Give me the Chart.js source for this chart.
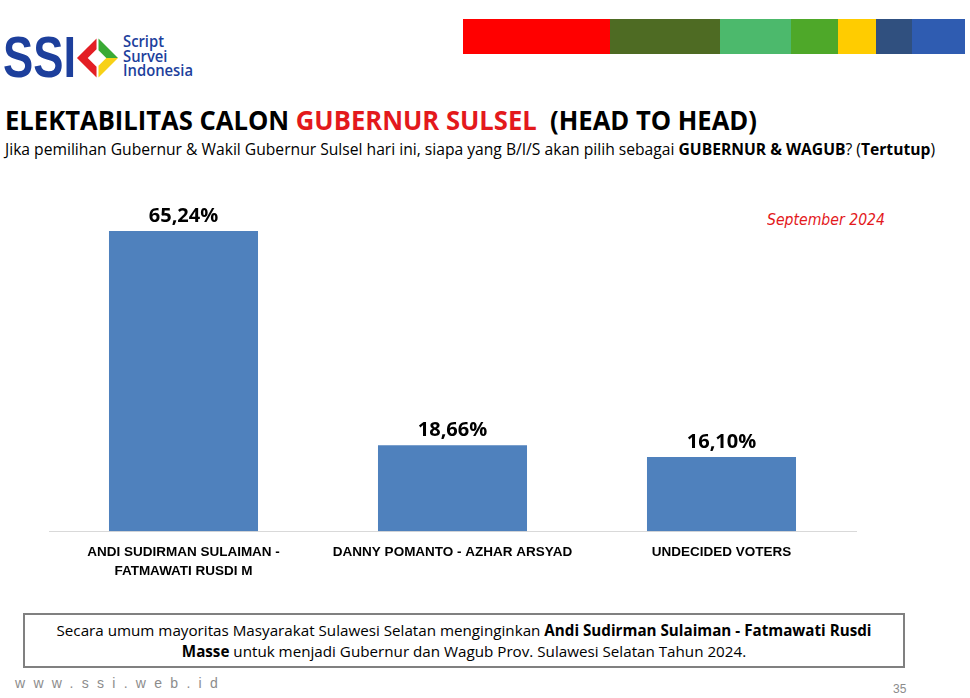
<!DOCTYPE html>
<html>
<head>
<meta charset="utf-8">
<script src="https://cdn.jsdelivr.net/npm/chart.js@4.4.1/dist/chart.umd.min.js"></script>
<style>
  body { margin: 0; width: 970px; height: 698px; background: #fff; position: relative; overflow: hidden;
         font-family: "Open Sans", sans-serif; }
  .abs { position: absolute; white-space: nowrap; transform-origin: left top; }
  #strip { left: 463px; top: 19px; height: 35px; width: 502px; display: flex; }
  #strip div { height: 100%; }
  #logo-ssi { left: 3px; top: 27px; font: bold 57px "Liberation Sans", sans-serif; color: #1d3f9c; line-height: 60px; }
  #logo-txt { left: 123px; top: 34px; font: 600 15.5px "Open Sans", sans-serif; color: #1d3f9c; line-height: 14.5px; }
  #title { left: 5px; top: 101px; font-weight: bold; font-size: 27px; color: #000; }
  #title span { color: #e3191c; }
  #sub { left: 5px; top: 138px; font-size: 16px; color: #000; }
  #date { left: 767px; top: 211px; font: italic 15px "DejaVu Sans", sans-serif; color: #e3191c; }
  #box { left: 23px; top: 613px; width: 882px; height: 55px; border: 2px solid #808080; box-sizing: border-box; }
  #boxtxt { left: 0; top: 620px; width: 928px; text-align: center; font-size: 15.2px; line-height: 21px; }
  #web { left: 15px; top: 675px; font: 14px "Liberation Sans", sans-serif; color: #8c8c8c; letter-spacing: 8.3px; }
  #page { left: 893px; top: 682px; font: 12px "Liberation Sans", sans-serif; color: #8c8c8c; }
  #wrap { left: 0; top: 190px; width: 970px; height: 395px; }
</style>
</head>
<body>
<div id="strip" class="abs">
  <div style="width:147px;background:#ff0000"></div>
  <div style="width:110px;background:#4e6b23"></div>
  <div style="width:71px;background:#4cb96c"></div>
  <div style="width:47px;background:#4ea829"></div>
  <div style="width:38px;background:#ffcc00"></div>
  <div style="width:36px;background:#30507f"></div>
  <div style="width:53px;background:#2f5cb1"></div>
</div>
<div id="logo-ssi" class="abs" data-w="73">SSI</div>
<svg class="abs" style="left:76px;top:36px" width="43" height="44" viewBox="0 0 44 44">
  <polygon points="1,22 21,2 21,13 12,22 21,31 21,42" fill="#e31e24"/>
  <polygon points="23,2 43,22 31,22 23,14" fill="#3aaa35"/>
  <polygon points="43,22 23,42 23,30 31,22" fill="#f7d117"/>
</svg>
<div id="logo-txt" class="abs">Script<br>Survei<br><span id="indo" >Indonesia</span></div>
<div id="title" class="abs" data-w="752">ELEKTABILITAS CALON <span>GUBERNUR SULSEL</span>&nbsp; (HEAD TO HEAD)</div>
<div id="sub" class="abs" data-w="930">Jika pemilihan Gubernur &amp; Wakil Gubernur Sulsel hari ini, siapa yang B/I/S akan pilih sebagai <b>GUBERNUR &amp; WAGUB</b>? (<b>Tertutup</b>)</div>
<div id="date" class="abs" data-w="118">September 2024</div>
<div id="wrap" class="abs"><canvas id="chart"></canvas></div>
<div id="box" class="abs"></div>
<div id="boxtxt" class="abs">Secara umum mayoritas Masyarakat Sulawesi Selatan menginginkan <b>Andi Sudirman Sulaiman - Fatmawati Rusdi<br>Masse</b> untuk menjadi Gubernur dan Wagub Prov. Sulawesi Selatan Tahun 2024.</div>
<div id="web" class="abs">www.ssi.web.id</div>
<div id="page" class="abs">35</div>
<script>
const categories = [
  ["ANDI SUDIRMAN SULAIMAN -", "FATMAWATI RUSDI M"],
  "DANNY POMANTO - AZHAR ARSYAD",
  "UNDECIDED VOTERS"
];
const percentages = [65.24, 18.66, 16.10];
const valueLabels = ["65,24%", "18,66%", "16,10%"];

// squeeze text blocks to the widths seen in the slide (its font is condensed)
document.querySelectorAll("[data-w]").forEach(function(el) {
  const w = el.getBoundingClientRect().width;
  el.style.transform = "scaleX(" + (Number(el.dataset.w) / w) + ")";
});
const lt = document.getElementById("logo-txt");
lt.style.transform = "scaleX(" + (70 / document.getElementById("indo").getBoundingClientRect().width) + ")";

const barLabels = {
  id: "barLabels",
  afterDatasetsDraw(chart) {
    const ctx = chart.ctx;
    const meta = chart.getDatasetMeta(0);
    ctx.save();
    ctx.font = "bold 20px 'Open Sans', sans-serif";
    ctx.fillStyle = "#000";
    ctx.textAlign = "center";
    ctx.textBaseline = "bottom";
    meta.data.forEach(function(bar, i) {
      ctx.fillText(valueLabels[i], bar.x, bar.y - 5);
    });
    ctx.restore();
  }
};

new Chart(document.getElementById("chart").getContext("2d"), {
  type: "bar",
  data: {
    labels: categories,
    datasets: [{
      data: percentages,
      backgroundColor: "#4f81bd",
      borderWidth: 0,
      categoryPercentage: 1,
      barPercentage: 0.554
    }]
  },
  options: {
    responsive: true,
    maintainAspectRatio: false,
    animation: false,
    layout: { padding: { left: 49, right: 114, top: 19, bottom: 0 } },
    plugins: { legend: { display: false }, tooltip: { enabled: false } },
    scales: {
      x: {
        grid: { display: false },
        border: { color: "#d9d9d9", width: 1 },
        ticks: {
          color: "#000",
          padding: 4,
          maxRotation: 0,
          autoSkip: false,
          font: { family: "'Liberation Sans', sans-serif", weight: "bold", size: 13.5, lineHeight: 1.4 }
        }
      },
      y: { display: false, min: 0, max: 70 }
    }
  },
  plugins: [barLabels]
});
</script>
</body>
</html>
